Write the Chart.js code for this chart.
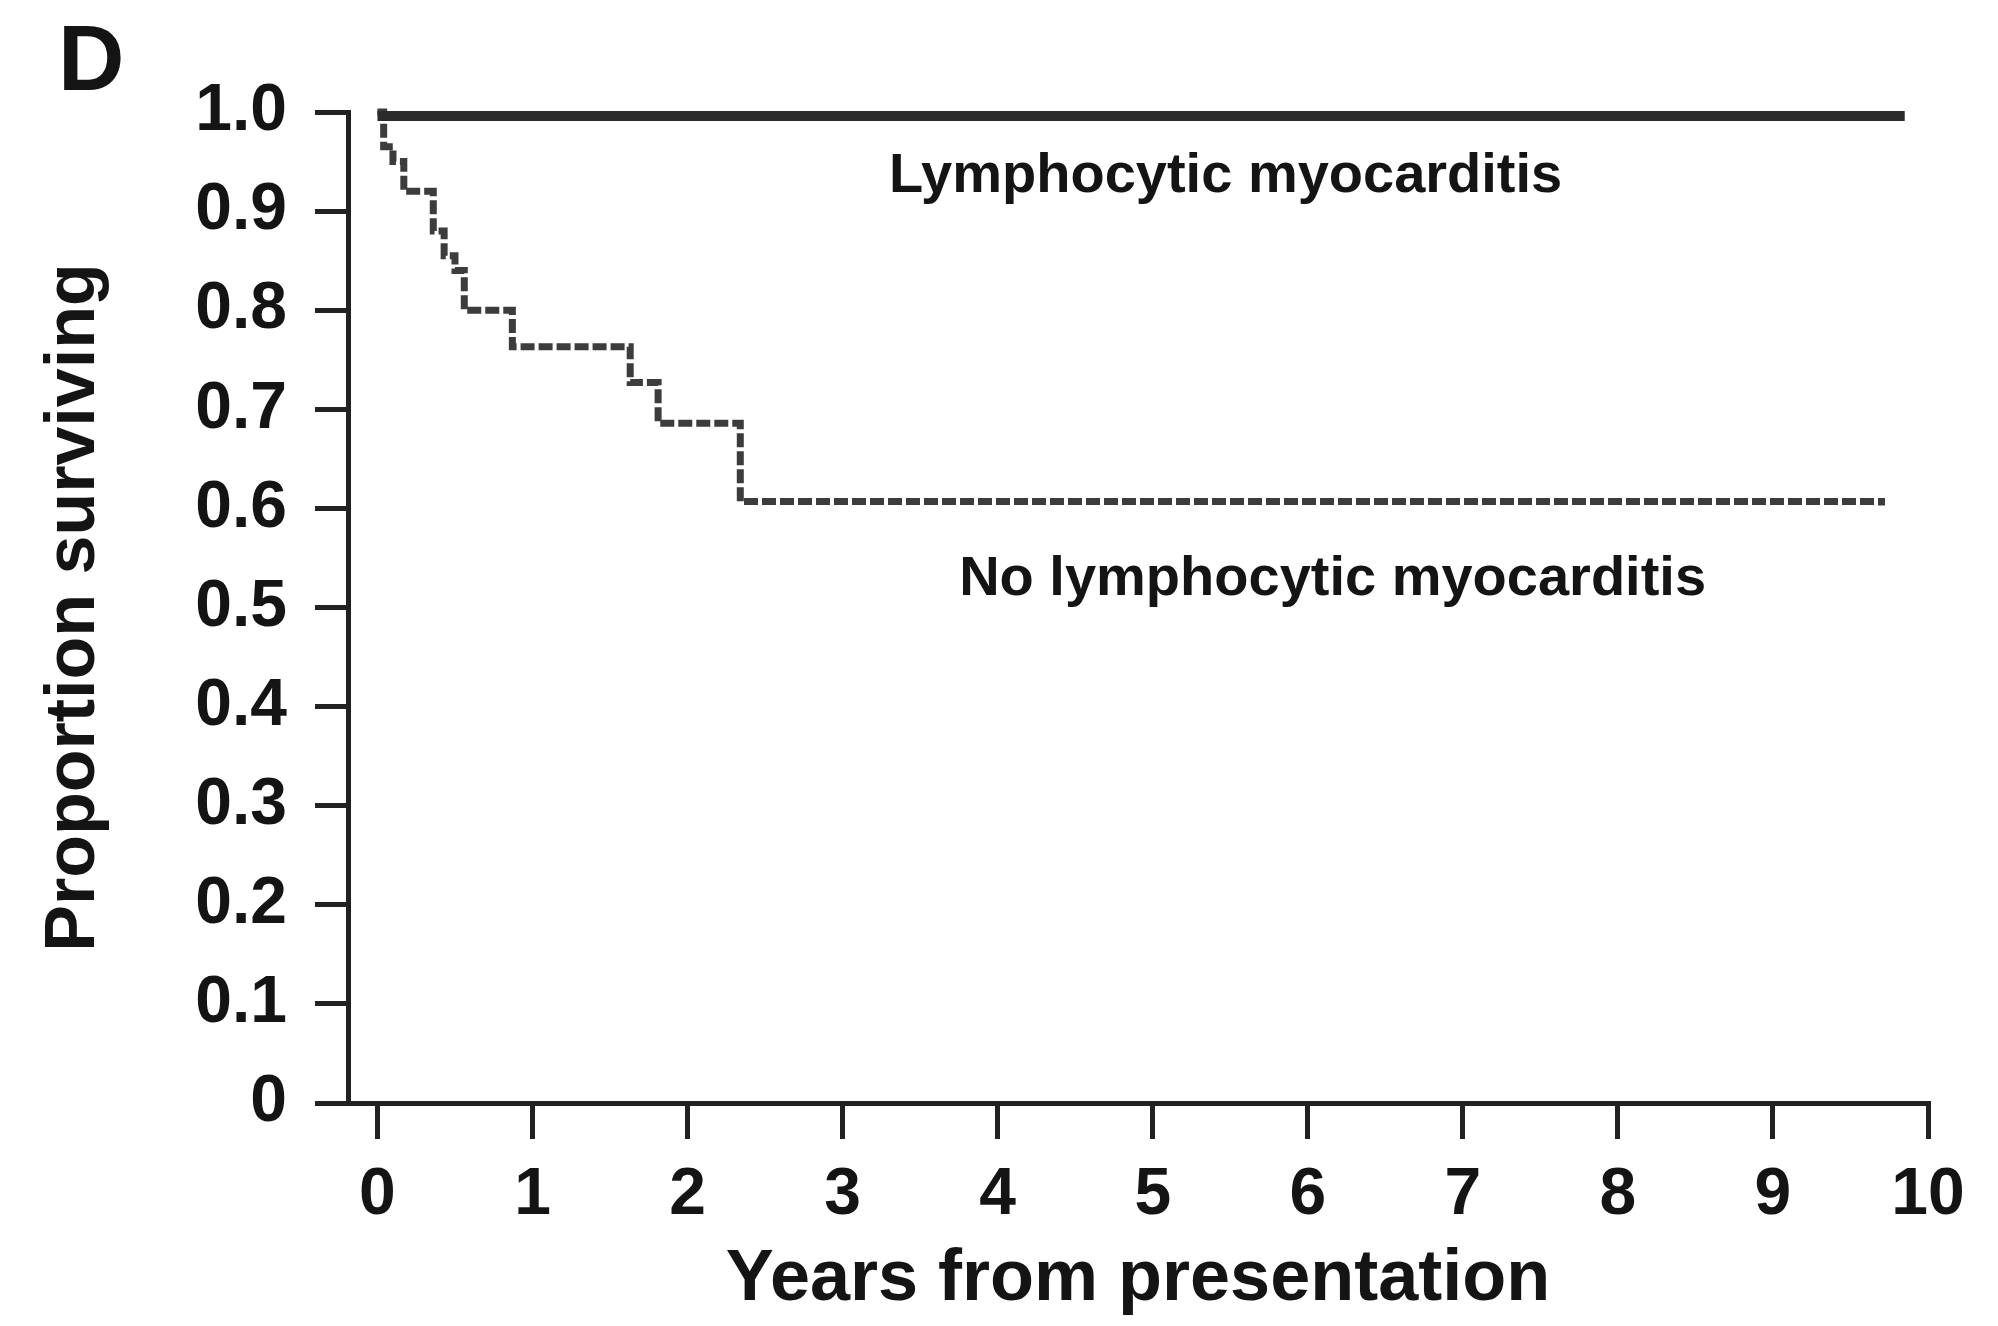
<!DOCTYPE html>
<html>
<head>
<meta charset="utf-8">
<title>Survival by lymphocytic myocarditis</title>
<script src="https://cdn.jsdelivr.net/npm/chart.js@4.4.1/dist/chart.umd.min.js"></script>
<style>
    html, body { margin: 0; padding: 0; background: #fff; }
    #wrap { position: relative; width: 1998px; height: 1326px; }
</style>
</head>
<body>
<div id="wrap"><canvas id="kmChart"></canvas></div>
<script>
// === DATA ===
const panelLabel = 'D';
const xTitle = 'Years from presentation';
const yTitle = 'Proportion surviving';

const xTickValues = [0, 1, 2, 3, 4, 5, 6, 7, 8, 9, 10];
const yTickValues = [0, 0.1, 0.2, 0.3, 0.4, 0.5, 0.6, 0.7, 0.8, 0.9, 1.0];
const yTickLabels = ['0', '0.1', '0.2', '0.3', '0.4', '0.5', '0.6', '0.7', '0.8', '0.9', '1.0'];

// Lymphocytic myocarditis: nobody died
const lymphTimes = [0, 9.85];
const lymphSurv = [0.996, 0.996];

// No lymphocytic myocarditis: Kaplan-Meier steps
const noLymphTimes = [0, 0.04, 0.10, 0.17, 0.36, 0.43, 0.50, 0.56, 0.87, 1.63, 1.81, 2.34, 9.7];
const noLymphSurv = [1.0, 0.965, 0.95, 0.92, 0.88, 0.855, 0.84, 0.80, 0.763, 0.727, 0.686, 0.607, 0.603];

// curve labels, placed in data units
const annoTexts = ['Lymphocytic myocarditis', 'No lymphocytic myocarditis'];
const annoX = [5.47, 6.16];
const annoY = [0.919, 0.513];

// === HELPERS ===
const FONT = '"Liberation Sans", Arial, Helvetica, sans-serif';
const INK = '#141414';

function toPoints(xs, ys) {
    return xs.map((x, i) => ({ x: x, y: ys[i] }));
}

// draws the panel letter and the in-plot curve labels
const labelPlugin = {
    id: 'curveLabels',
    afterDraw(chart) {
        const ctx = chart.ctx;
        const sx = chart.scales.x;
        const sy = chart.scales.y;
        ctx.save();
        ctx.fillStyle = INK;
        ctx.textBaseline = 'alphabetic';

        ctx.font = 'bold 92px ' + FONT;
        ctx.textAlign = 'left';
        ctx.fillText(panelLabel, 58, 90);

        ctx.font = 'bold 56px ' + FONT;
        ctx.textAlign = 'center';
        annoTexts.forEach((t, i) => {
            ctx.fillText(t, sx.getPixelForValue(annoX[i]), sy.getPixelForValue(annoY[i]));
        });
        ctx.restore();
    }
};

// === CHART ===
const ctx = document.getElementById('kmChart');

new Chart(ctx, {
    type: 'line',
    data: {
        datasets: [
            {
                label: 'Lymphocytic myocarditis',
                data: toPoints(lymphTimes, lymphSurv),
                borderColor: '#2b2b2b',
                borderWidth: 10,
                pointRadius: 0,
                borderCapStyle: 'butt',
                clip: false
            },
            {
                label: 'No lymphocytic myocarditis',
                data: toPoints(noLymphTimes, noLymphSurv),
                borderColor: '#3c3c3c',
                borderWidth: 7,
                borderDash: [14, 4],
                stepped: 'before',
                pointRadius: 0,
                clip: false
            }
        ]
    },
    options: {
        responsive: true,
        maintainAspectRatio: false,
        animation: false,
        layout: { padding: { top: 112, right: 70, bottom: 0, left: 0 } },
        plugins: {
            legend: { display: false },
            tooltip: { enabled: false }
        },
        scales: {
            x: {
                type: 'linear',
                min: -0.19,
                max: 10,
                afterBuildTicks: (scale) => {
                    scale.ticks = xTickValues.map(v => ({ value: v }));
                },
                afterFit: (scale) => { scale.height = 223; },
                grid: {
                    drawOnChartArea: false,
                    drawTicks: true,
                    tickLength: 36,
                    color: '#222',
                    lineWidth: 5
                },
                border: { display: true, color: '#222', width: 5 },
                ticks: {
                    autoSkip: false,
                    maxRotation: 0,
                    padding: 17,
                    color: INK,
                    font: { family: FONT, size: 66, weight: 'bold' }
                },
                title: {
                    display: true,
                    text: xTitle,
                    color: INK,
                    font: { family: FONT, size: 72, weight: 'bold' },
                    padding: { top: 0, bottom: 3 }
                }
            },
            y: {
                type: 'linear',
                min: 0,
                max: 1,
                afterBuildTicks: (scale) => {
                    scale.ticks = yTickValues.map(v => ({ value: v }));
                },
                afterFit: (scale) => { scale.width = 348; },
                grid: {
                    drawOnChartArea: false,
                    drawTicks: true,
                    tickLength: 33,
                    color: '#222',
                    lineWidth: 5
                },
                border: { display: true, color: '#222', width: 5 },
                ticks: {
                    autoSkip: false,
                    padding: 28,
                    color: INK,
                    font: { family: FONT, size: 66, weight: 'bold' },
                    callback: (val, i) => yTickLabels[i]
                },
                title: {
                    display: true,
                    text: yTitle,
                    color: INK,
                    font: { family: FONT, size: 70, weight: 'bold' },
                    padding: { top: 33, bottom: 0 }
                }
            }
        }
    },
    plugins: [labelPlugin]
});
</script>
</body>
</html>
